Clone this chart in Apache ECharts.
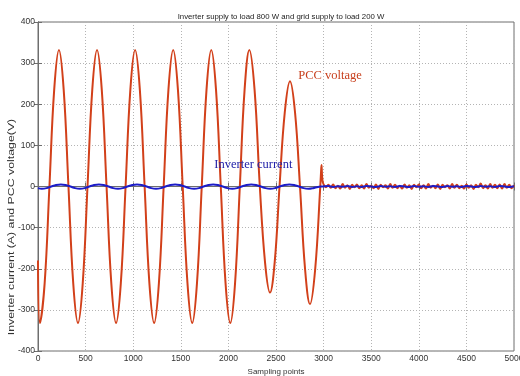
<!DOCTYPE html>
<html>
<head>
<meta charset="utf-8">
<script src="https://cdn.jsdelivr.net/npm/echarts@6/dist/echarts.min.js"></script>
<style>
html,body{margin:0;padding:0;background:#fff;}
#c{width:520px;height:376px;}
</style>
</head>
<body>
<div id="c"></div>
<script>
// ---- data ----
var xTicks = [0, 500, 1000, 1500, 2000, 2500, 3000, 3500, 4000, 4500, 5000];
var yTicks = [-400, -300, -200, -100, 0, 100, 200, 300, 400];

var voltageSamples = [
  0, 20, 70, 120, 170, 220, 270, 320, 370,
  420, 470, 520, 570, 620, 670, 720, 770,
  820, 870, 920, 970, 1020, 1070, 1120, 1170,
  1220, 1270, 1320, 1370, 1420, 1470, 1520, 1570,
  1620, 1670, 1720, 1770, 1820, 1870, 1920, 1970,
  2020, 2070, 2120, 2170, 2220, 2275, 2330, 2385,
  2437, 2487, 2537, 2592, 2647, 2700, 2752, 2805,
  2857, 2912, 2965, 2972, 2978, 2984, 2992, 3005,
  3025, 3050, 3075, 3100, 3125, 3150, 3175, 3200, 3225, 3250, 3275, 3300, 3325, 3350, 3375, 3400,
  3425, 3450, 3475, 3500, 3525, 3550, 3575, 3600, 3625, 3650, 3675, 3700, 3725, 3750, 3775, 3800,
  3825, 3850, 3875, 3900, 3925, 3950, 3975, 4000, 4025, 4050, 4075, 4100, 4125, 4150, 4175, 4200,
  4225, 4250, 4275, 4300, 4325, 4350, 4375, 4400, 4425, 4450, 4475, 4500, 4525, 4550, 4575, 4600,
  4625, 4650, 4675, 4700, 4725, 4750, 4775, 4800, 4825, 4850, 4875, 4900, 4925, 4950, 4975, 5000
];
var voltageValues = [
  -180, -332, -235, 0, 235, 332, 235, 0, -235,
  -332, -235, 0, 235, 332, 235, 0, -235,
  -332, -235, 0, 235, 332, 235, 0, -235,
  -332, -235, 0, 235, 332, 235, 0, -235,
  -332, -235, 0, 235, 332, 235, 0, -235,
  -332, -235, 0, 235, 332, 235, 0, -185,
  -258, -182, 0, 180, 256, 180, 0, -200,
  -286, -200, 0, 30, 52, 25, 10, 3,
  -2, 4, -3, 5, -4, 2, -5, 6, -3, 3, -6, 4, -2, 5, -4, 3,
  -5, 6, -3, 2, -4, 5, -6, 4, -2, 3, -5, 6, -3, 4, -4, 2,
  -5, 5, -3, 3, -6, 4, -2, 5, -4, 3, -5, 6, -3, 2, -4, 5,
  -6, 4, -2, 3, -5, 6, -3, 4, -4, 2, -5, 5, -3, 3, -6, 4,
  -2, 7, -4, 3, -5, 6, -3, 4, -4, 5, -5, 6, -3, 4, -4, 3
];

var currentSamples = [
  0, 40, 90, 140, 190, 240, 290, 340, 390,
  440, 490, 540, 590, 640, 690, 740, 790,
  840, 890, 940, 990, 1040, 1090, 1140, 1190,
  1240, 1290, 1340, 1390, 1440, 1490, 1540, 1590,
  1640, 1690, 1740, 1790, 1840, 1890, 1940, 1990,
  2040, 2090, 2140, 2190, 2240, 2290, 2340, 2390,
  2440, 2490, 2540, 2590, 2640, 2690, 2740, 2790,
  2840, 2890, 2940, 2990,
  3050, 3100, 3150, 3200, 3250, 3300, 3350, 3400, 3450, 3500,
  3550, 3600, 3650, 3700, 3750, 3800, 3850, 3900, 3950, 4000,
  4050, 4100, 4150, 4200, 4250, 4300, 4350, 4400, 4450, 4500,
  4550, 4600, 4650, 4700, 4750, 4800, 4850, 4900, 4950, 5000
];
var currentValues = [
  -4, -5.5, -4, 0, 3.5, 5, 3.5, 0, -4,
  -5.5, -4, 0, 3.5, 5, 3.5, 0, -4,
  -5.5, -4, 0, 3.5, 5, 3.5, 0, -4,
  -5.5, -4, 0, 3.5, 5, 3.5, 0, -4,
  -5.5, -4, 0, 3.5, 5, 3.5, 0, -4,
  -5.5, -4, 0, 3.5, 5, 3.5, 0, -4,
  -5.5, -4, 0, 3.5, 5, 3.5, 0, -4,
  -5.5, -4, -1, 0,
  1, -1, 0.5, -0.5, 1, -1, 0.5, -1, 1, 0,
  -1, 1, -0.5, 0.5, -1, 1, 0, -1, 1, -0.5,
  0.5, -1, 1, 0, -1, 1, -0.5, 0.5, -1, 1,
  0, -1, 1, -0.5, 0.5, -1, 1, 0, -1, 0.5
];

var titleText = 'Inverter supply to load 800 W and grid supply to load 200 W';
var xName = 'Sampling points';
var yName = 'Inverter current (A) and PCC voltage(V)';

function pairs(xs, ys) { return xs.map(function (x, i) { return [x, ys[i]]; }); }

var axisColor = '#6e6e6e';
var gridColor = '#b4b4b4';
var sansFont = 'Liberation Sans, Arial, sans-serif';
var labelStyle = { fontFamily: sansFont, fontSize: 8.5, color: '#333' };

var chart = echarts.init(document.getElementById('c'), null, { renderer: 'canvas' });
chart.setOption({
  animation: false,
  backgroundColor: '#fff',
  title: {
    text: titleText,
    left: 276, top: 8, textAlign: 'center',
    textStyle: { fontFamily: sansFont, fontSize: 7.8, fontWeight: 'normal', color: '#222' }
  },
  grid: { left: 38, right: 6, top: 22, bottom: 25, containLabel: false, outerBoundsMode: 'none',
          show: true, borderColor: axisColor, borderWidth: 1 },
  xAxis: [{
    type: 'value', min: xTicks[0], max: xTicks[xTicks.length - 1], interval: xTicks[1] - xTicks[0],
    position: 'bottom',
    axisLine: { show: true, lineStyle: { color: axisColor } },
    axisTick: { show: true, inside: true, length: 4, lineStyle: { color: axisColor } },
    axisLabel: Object.assign({ margin: 3, formatter: function (v) { return String(v); } }, labelStyle),
    splitLine: { show: true, lineStyle: { color: gridColor, type: [1, 2], width: 1 } },
    name: xName, nameLocation: 'middle', nameGap: 15,
    nameTextStyle: Object.assign({}, labelStyle, { fontSize: 8 })
  }, {
    type: 'value', min: xTicks[0], max: xTicks[xTicks.length - 1], interval: xTicks[1] - xTicks[0],
    position: 'top',
    axisLine: { show: true, lineStyle: { color: axisColor } },
    axisTick: { show: true, inside: true, length: 4, lineStyle: { color: axisColor } },
    axisLabel: { show: false }, splitLine: { show: false }
  }],
  yAxis: [{
    type: 'value', min: yTicks[0], max: yTicks[yTicks.length - 1], interval: yTicks[1] - yTicks[0],
    position: 'left',
    axisLine: { show: true, lineStyle: { color: axisColor } },
    axisTick: { show: true, inside: true, length: 4, lineStyle: { color: axisColor } },
    axisLabel: Object.assign({ margin: 3, formatter: function (v) { return String(v); } }, labelStyle),
    splitLine: { show: true, lineStyle: { color: gridColor, type: [1, 2], width: 1 } }
  }, {
    type: 'value', min: yTicks[0], max: yTicks[yTicks.length - 1], interval: yTicks[1] - yTicks[0],
    position: 'right',
    axisLine: { show: true, lineStyle: { color: axisColor } },
    axisTick: { show: true, inside: true, length: 4, lineStyle: { color: axisColor } },
    axisLabel: { show: false }, splitLine: { show: false }
  }],
  graphic: [{
    type: 'text', x: 12, y: 227, rotation: Math.PI / 2, scaleX: 1.45, scaleY: 1,
    style: { text: yName, font: '8.5px ' + sansFont, fill: '#333', textAlign: 'center', textVerticalAlign: 'middle' }
  }],
  series: [{
    name: 'PCC voltage', type: 'line', data: pairs(voltageSamples, voltageValues),
    smooth: 0.4, showSymbol: false, symbol: 'none',
    lineStyle: { color: '#d2401a', width: 2 },
    markPoint: {
      symbol: 'circle', symbolSize: 0,
      label: { show: true, position: 'inside', fontFamily: 'Liberation Serif, Times New Roman, serif', fontSize: 12.5, color: '#c8401e' },
      data: [{ coord: [3067, 269], value: 'PCC voltage', label: { formatter: 'PCC voltage' } }]
    }
  }, {
    name: 'Inverter current', type: 'line', data: pairs(currentSamples, currentValues),
    smooth: 0.4, showSymbol: false, symbol: 'none',
    lineStyle: { color: '#1c1cc8', width: 2 },
    markPoint: {
      symbol: 'circle', symbolSize: 0,
      label: { show: true, position: 'inside', fontFamily: 'Liberation Serif, Times New Roman, serif', fontSize: 12.5, color: '#2020a8' },
      data: [{ coord: [2262, 52], value: 'Inverter current', label: { formatter: 'Inverter current' } }]
    }
  }]
});
</script>
</body>
</html>
